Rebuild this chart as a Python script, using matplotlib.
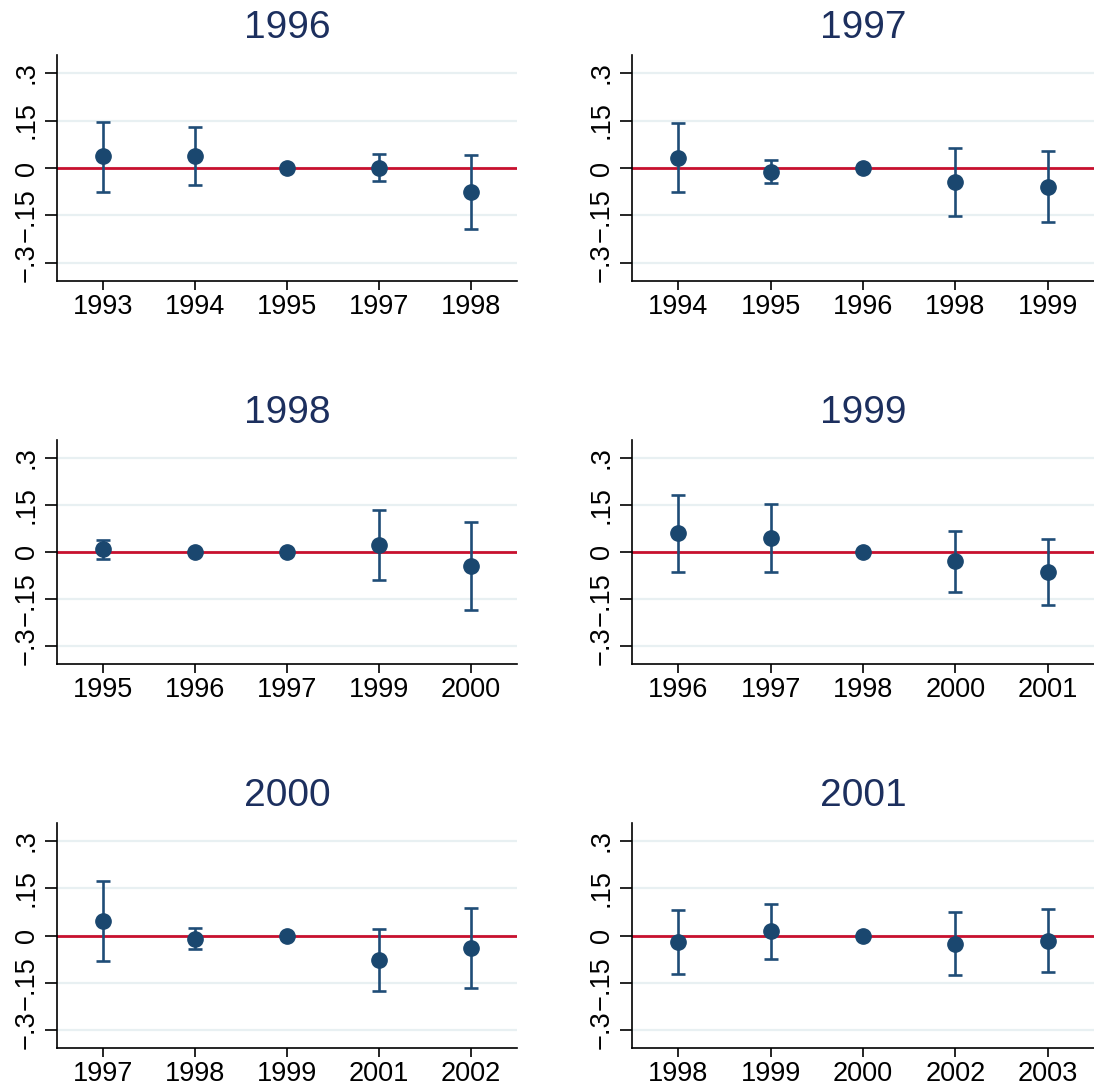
import matplotlib
matplotlib.use("Agg")
import matplotlib.pyplot as plt
import numpy as np

plt.rcParams['font.family'] = ['Liberation Sans', 'DejaVu Sans']

# panel titles (base year) and event-study estimates
titles = ['1996', '1997', '1998', '1999', '2000', '2001']

years_1996 = [1993, 1994, 1995, 1997, 1998]
coef_1996 = [0.037, 0.037, 0.0, 0.0, -0.077]
lo_1996 = [-0.075, -0.054, 0.0, -0.042, -0.193]
hi_1996 = [0.146, 0.128, 0.0, 0.043, 0.041]

years_1997 = [1994, 1995, 1996, 1998, 1999]
coef_1997 = [0.033, -0.012, 0.0, -0.045, -0.059]
lo_1997 = [-0.076, -0.048, 0.0, -0.151, -0.170]
hi_1997 = [0.143, 0.026, 0.0, 0.062, 0.055]

years_1998 = [1995, 1996, 1997, 1999, 2000]
coef_1998 = [0.008, 0.001, 0.0, 0.022, -0.046]
lo_1998 = [-0.023, 0.001, 0.0, -0.090, -0.186]
hi_1998 = [0.039, 0.001, 0.0, 0.134, 0.097]

years_1999 = [1996, 1997, 1998, 2000, 2001]
coef_1999 = [0.059, 0.045, 0.0, -0.030, -0.065]
lo_1999 = [-0.065, -0.064, 0.0, -0.127, -0.170]
hi_1999 = [0.183, 0.153, 0.0, 0.067, 0.041]

years_2000 = [1997, 1998, 1999, 2001, 2002]
coef_2000 = [0.045, -0.011, 0.0, -0.079, -0.041]
lo_2000 = [-0.082, -0.042, 0.0, -0.175, -0.167]
hi_2000 = [0.174, 0.024, 0.0, 0.020, 0.086]

years_2001 = [1998, 1999, 2000, 2002, 2003]
coef_2001 = [-0.020, 0.013, 0.0, -0.026, -0.017]
lo_2001 = [-0.122, -0.076, 0.0, -0.126, -0.115]
hi_2001 = [0.081, 0.101, 0.0, 0.073, 0.083]

yticks = [-0.3, -0.15, 0, 0.15, 0.3]
ytick_labels = ['\u2212.3', '\u2212.15', '0', '.15', '.3']

panels = [
    (years_1996, coef_1996, lo_1996, hi_1996),
    (years_1997, coef_1997, lo_1997, hi_1997),
    (years_1998, coef_1998, lo_1998, hi_1998),
    (years_1999, coef_1999, lo_1999, hi_1999),
    (years_2000, coef_2000, lo_2000, hi_2000),
    (years_2001, coef_2001, lo_2001, hi_2001),
]

navy = '#1a476f'
W, H = 1094, 1091
fig = plt.figure(figsize=(W / 100, H / 100), dpi=100)

# axes boxes in pixels: (left, right) per column, (top, bottom) per row
cols = [(57, 517), (632, 1094)]
rows = [(55, 281), (440, 664), (823, 1048)]

for i, (yrs, coef, lo, hi) in enumerate(panels):
    l, r = cols[i % 2]
    t, b = rows[i // 2]
    ax = fig.add_axes([l / W, 1 - b / H, (r - l) / W, (b - t) / H])

    x = np.arange(len(yrs))
    coef = np.array(coef)
    err = [coef - np.array(lo), np.array(hi) - coef]

    for yt in yticks:
        ax.axhline(yt, color='#e8f0f2', lw=1.6, zorder=0)
    ax.axhline(0, color='#c8102e', lw=2.0, zorder=1)

    ax.errorbar(x, coef, yerr=err, fmt='none', ecolor='#1f4d77', elinewidth=1.9,
                capsize=5, capthick=1.9, zorder=2)
    ax.plot(x, coef, 'o', color=navy, ms=11, zorder=3)

    ax.set_xlim(-0.5, len(yrs) - 0.5)
    ax.set_ylim(-0.357, 0.357)
    ax.set_xticks(x)
    ax.set_xticklabels([str(y) for y in yrs])
    ax.set_yticks(yticks)
    ax.set_yticklabels(ytick_labels, rotation=90, va='center')

    ax.tick_params(axis='x', length=6.5, width=1.2, pad=3, labelsize=19.5,
                   colors='black')
    ax.tick_params(axis='y', length=8.5, width=1.2, pad=4, labelsize=19.5,
                   colors='black')

    for side in ['top', 'right']:
        ax.spines[side].set_visible(False)
    for side in ['left', 'bottom']:
        ax.spines[side].set_linewidth(1.2)
        ax.spines[side].set_color('black')

    ax.set_title(titles[i], fontsize=28, color='#1c2f5e', pad=12)

fig.savefig('out.png', dpi=100, facecolor='white')
